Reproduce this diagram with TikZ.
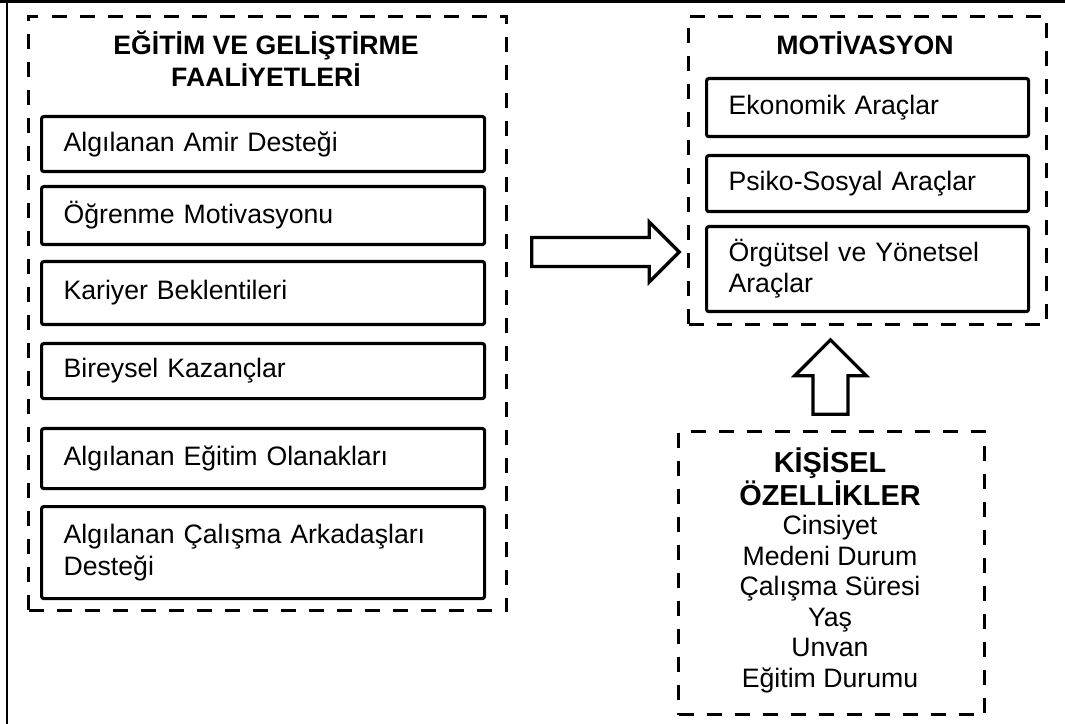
\documentclass[tikz,border=0pt]{standalone}
\usepackage{fontspec}
\setmainfont{Liberation Sans}
\usetikzlibrary{shapes.arrows}

\begin{document}
\begin{tikzpicture}[
  x=0.45pt, y=-0.45pt,
  group/.style={draw, line width=1.35pt, dash pattern=on 6.75pt off 5.85pt, anchor=north west, inner sep=0pt},
  item/.style={draw, line width=1.4pt, rounded corners=1pt, anchor=north west, align=left, inner xsep=9.9pt, inner ysep=0pt, font=\fontsize{12}{14}\selectfont},
  leftitem/.style={item, text width=179.55pt, minimum width=199.35pt},
  rightitem/.style={item, text width=125.1pt, minimum width=144.9pt},
  title/.style={align=center, font=\fontsize{12}{14.4}\selectfont\bfseries},
  fatarrow/.style={single arrow, draw, line width=1.5pt, inner xsep=0pt, single arrow tip angle=90, anchor=tail}
]
\useasboundingbox (0,0) rectangle (1065,724);
% frame
\draw[line width=1.35pt] (0,1.5) -- (1065,1.5);
\draw[line width=0.9pt] (6.5,0) -- (6.5,724);

% left group
\node[group, minimum width=215.1pt, minimum height=267.3pt] (egitim) at (27,15) {};
\node[title] (egitimbaslik) at (266,59) {EĞİTİM VE GELİŞTİRME\\FAALİYETLERİ};
\node[leftitem, minimum height=24.75pt] (amir) at (40,115) {Algılanan Amir Desteği};
\node[leftitem, minimum height=26.1pt] (ogrenme) at (40,185) {Öğrenme Motivasyonu};
\node[leftitem, minimum height=28.35pt] (kariyer) at (40,260) {Kariyer Beklentileri};
\node[leftitem, minimum height=24.75pt] (kazanc) at (40,342) {Bireysel Kazançlar};
\node[leftitem, minimum height=27pt] (olanak) at (40,427) {Algılanan Eğitim Olanakları};
\node[leftitem, minimum height=41.4pt] (arkadas) at (40,505) {Algılanan Çalışma Arkadaşları\\Desteği};

% right group
\node[group, minimum width=161.1pt, minimum height=138.6pt] (motivasyon) at (687,15) {};
\node[title] (motivasyonbaslik) at (865,43) {MOTİVASYON};
\node[rightitem, minimum height=26.1pt] (ekonomik) at (705,77) {Ekonomik Araçlar};
\node[rightitem, minimum height=25.2pt] (psiko) at (705,154) {Psiko-Sosyal Araçlar};
\node[rightitem, minimum height=38.25pt] (orgutsel) at (705,225) {Örgütsel ve Yönetsel\\Araçlar};

% personal traits
\node[group, minimum width=137.7pt, minimum height=127.35pt] (kisisel) at (677,430) {};
\node[align=center, font=\fontsize{13}{14.85}\selectfont\bfseries] (kisiselbaslik) at (830,476.5) {KİŞİSEL\\ÖZELLİKLER};
\node[align=center, font=\fontsize{12}{13.7}\selectfont] (kisisellist) at (830,604) {Cinsiyet\\Medeni Durum\\Çalışma Süresi\\Yaş\\Unvan\\Eğitim Durumu};

% block arrows
\node[fatarrow, minimum height=66.4pt, inner ysep=5.75pt, single arrow head extend=7pt] (oksag) at (530,252) {};
\node[fatarrow, rotate=90, minimum height=33.5pt, inner ysep=7.1pt, single arrow head extend=8.3pt] (okyukari) at (830.5,416) {};
\end{tikzpicture}
\end{document}
